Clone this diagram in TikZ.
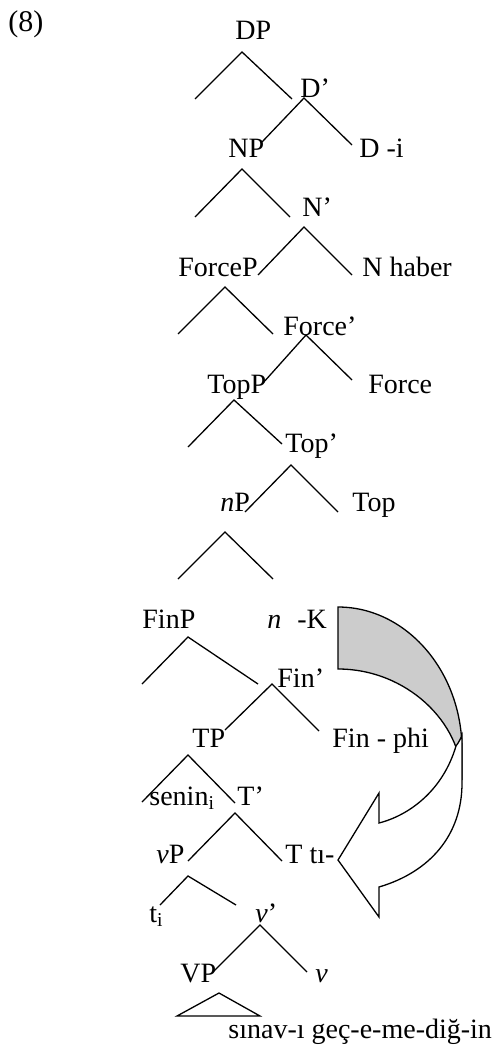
\documentclass[tikz,border=0pt]{standalone}
\usepackage{fontspec}
\setmainfont{Liberation Serif}
\usepackage{tikz}
\definecolor{backgray}{HTML}{CCCCCC}

\begin{document}
\begin{tikzpicture}[x=0.5pt, y=-0.5pt, every node/.style={inner sep=0, anchor=base west, font=\fontsize{14}{16}\selectfont}, branch/.style={line width=0.65pt}]
  \useasboundingbox (0,0) rectangle (497,1048);
  % labels
  \node[font=\fontsize{15}{17}\selectfont] (num) at (8,32) {(8)};
  \node (dp) at (235,40) {DP};
  \node (dbar) at (300,98) {D’};
  \node (np) at (228,158) {NP};
  \node (di) at (359,158) {D -i};
  \node (nbar) at (302,217) {N’};
  \node (forcep) at (178,276) {ForceP};
  \node (nhaber) at (362,276) {N haber};
  \node (forcebar) at (283,335) {Force’};
  \node (topp) at (207,393) {TopP};
  \node (force) at (368,393) {Force};
  \node (topbar) at (285,452) {Top’};
  \node (littlenp) at (220,511) {\textit{n}P};
  \node (top) at (352,511) {Top};
  \node (finp) at (142,628) {FinP};
  \node (nk) at (267,628) {\textit{n}\hspace{8pt}-K};
  \node (finbar) at (277,687) {Fin’};
  \node (tp) at (192,747) {TP};
  \node (finphi) at (332,747) {Fin - phi};
  \node (senin) at (149,805) {senin\textsubscript{i}};
  \node (tbar) at (237,805) {T’};
  \node (vp) at (156,863) {\textit{v}P};
  \node (tti) at (285,863) {T tı-};
  \node (trace) at (149,922) {t\textsubscript{i}};
  \node (vbar) at (255,922) {\textit{v}’};
  \node (bigvp) at (180,982) {VP};
  \node (littlev) at (315,982) {\textit{v}};
  \node (sinav) at (228,1038) {sınav-ı geç-e-me-diğ-in};
  % branches
  \draw[branch] (195,99) -- (242,52) -- (292,99);
  \draw[branch] (262,142) -- (304,98) -- (352,145);
  \draw[branch] (195,217) -- (242,169) -- (290,217);
  \draw[branch] (258,275) -- (304,227) -- (352,275);
  \draw[branch] (178,334) -- (225,287) -- (273,334);
  \draw[branch] (263,383) -- (306,335) -- (352,380);
  \draw[branch] (188,447) -- (234,400) -- (282,444);
  \draw[branch] (245,512) -- (291,465) -- (338,512);
  \draw[branch] (178,579) -- (225,532) -- (273,579);
  \draw[branch] (142,684) -- (188,637) -- (258,684);
  \draw[branch] (225,730) -- (272,684) -- (319,731);
  \draw[branch] (142,802) -- (188,755) -- (235,803);
  \draw[branch] (188,861) -- (235,813) -- (282,861);
  \draw[branch] (160,905) -- (188,876) -- (236,905);
  \draw[branch] (213,972) -- (260,925) -- (307,972);
  \draw[branch] (177,1016) -- (219,993) -- (260,1016) -- cycle;
  % curved arrow
  \filldraw[branch, fill=backgray] (338,607) -- (338,669) .. controls (406,669) and (462,722) .. (462,780)
    -- (462,750) .. controls (462,671) and (406,607) .. (338,607) -- cycle;
  \filldraw[branch, fill=white, line join=miter] (456,746) .. controls (443,790) and (410,815) .. (379,823)
    -- (379,793) -- (338,860) -- (379,917) -- (379,887)
    .. controls (430,872) and (462,835) .. (462,783) -- (462,735) .. controls (461,738) and (459,742) .. (456,746) -- cycle;
\end{tikzpicture}
\end{document}
